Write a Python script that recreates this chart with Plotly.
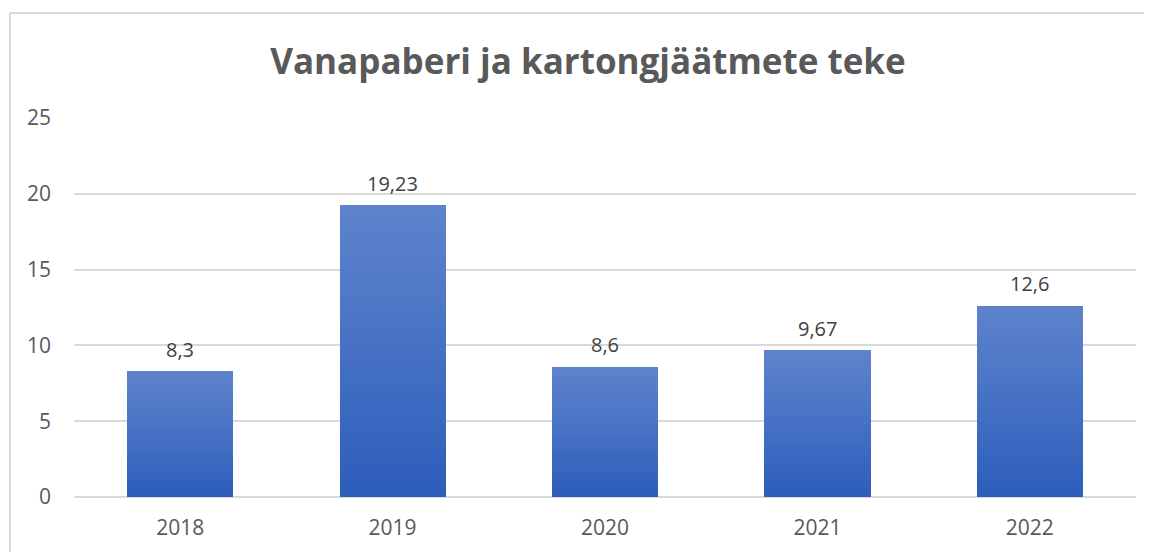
import plotly.graph_objects as go

# ---- data ----
years = ["2018", "2019", "2020", "2021", "2022"]
values = [8.3, 19.23, 8.6, 9.67, 12.6]
value_labels = ["8,3", "19,23", "8,6", "9,67", "12,6"]
y_tick_values = [0, 5, 10, 15, 20, 25]
title_text = "Vanapaberi ja kartongjäätmete teke"

# ---- style ----
TOP_RGB = (94, 131, 204)
BOTTOM_RGB = (45, 94, 187)
N_SLICES = 40
GRID = "#d9d9d9"
TICK_COLOR = "#595959"
LABEL_COLOR = "#404040"
TITLE_FONT = "Open Sans, sans-serif"
TICK_FONT = "Open Sans, sans-serif"

fig = go.Figure()

# gradient bars: each bar split into equal slices, coloured bottom->top
for i in range(N_SLICES):
    t = i / (N_SLICES - 1)
    rgb = tuple(round(b + (tp - b) * t) for b, tp in zip(BOTTOM_RGB, TOP_RGB))
    fig.add_trace(go.Bar(
        x=years,
        y=[v / N_SLICES for v in values],
        width=0.5,
        marker=dict(color="rgb(%d,%d,%d)" % rgb, line=dict(width=0)),
        hoverinfo="skip",
        showlegend=False,
    ))

# value labels above bars (x given as category index)
for idx, (v, lab) in enumerate(zip(values, value_labels)):
    fig.add_annotation(x=idx, y=v, text=lab, showarrow=False, yshift=22,
                       font=dict(family=TICK_FONT, size=20, color=LABEL_COLOR))

# chart frame (light grey border)
fig.add_shape(type="line", xref="paper", yref="paper",
              x0=-0.0603, x1=-0.0603, y0=-0.5, y1=1.277,
              line=dict(color=GRID, width=2))
fig.add_shape(type="line", xref="paper", yref="paper",
              x0=-0.0603, x1=1.1, y0=1.277, y1=1.277,
              line=dict(color=GRID, width=2))

fig.update_layout(
    barmode="stack",
    bargap=0,
    width=1152, height=552,
    margin=dict(l=66, r=24, t=110, b=63),
    paper_bgcolor="white",
    plot_bgcolor="white",
    title=dict(text="<b>" + title_text + "</b>", x=580 / 1152, xanchor="center",
               xref="container", y=1 - 54 / 552, yref="container", yanchor="middle",
               font=dict(family=TITLE_FONT, size=35, color="#595959")),
    xaxis=dict(type="category", range=[-0.5, len(years) - 0.5], showgrid=False,
               showline=False, ticks="", ticklabelstandoff=16,
               tickfont=dict(family=TICK_FONT, size=21, color=TICK_COLOR)),
    yaxis=dict(range=[0, 25], tickvals=y_tick_values, showgrid=True,
               gridcolor=GRID, gridwidth=1.5, zeroline=True, zerolinecolor=GRID,
               zerolinewidth=1.5, showline=False, ticks="", ticklabelstandoff=22,
               tickfont=dict(family=TICK_FONT, size=21, color=TICK_COLOR)),
)

fig.write_html("out.html")
